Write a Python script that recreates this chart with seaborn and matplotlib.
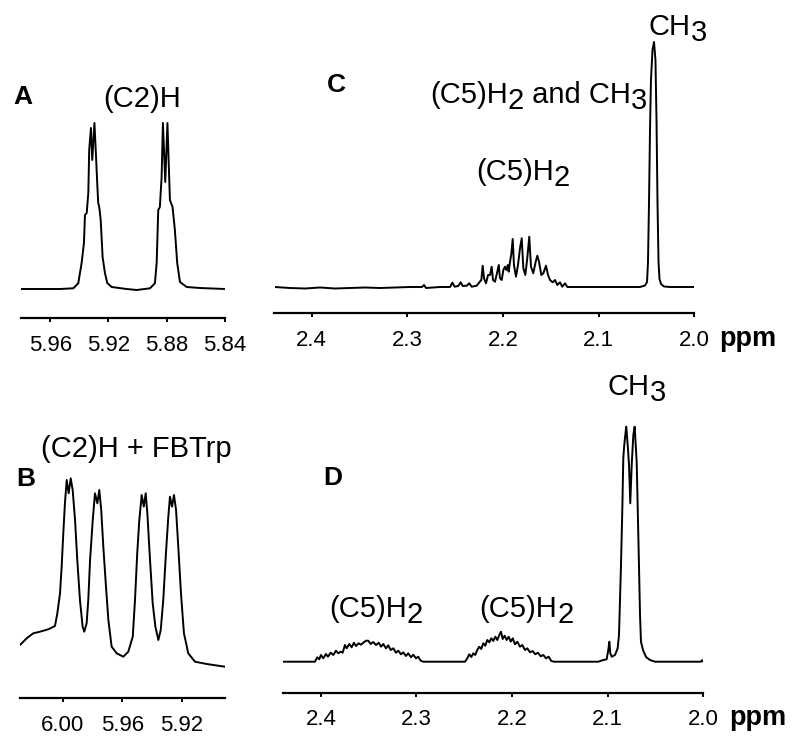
import matplotlib
matplotlib.use("Agg")
import matplotlib.pyplot as plt
import matplotlib.transforms as mtrans
import pandas as pd
import seaborn as sns

# ---------------- data ----------------
# Panel A: (C2)H
ppm_A = [5.9800, 5.9533, 5.9441, 5.9407, 5.9384, 5.9368, 5.9361, 5.9349, 5.9338, 5.9332,
         5.9320, 5.9311, 5.9296, 5.9284, 5.9277, 5.9270, 5.9263, 5.9253, 5.9240, 5.9224,
         5.9208, 5.9178, 5.9075, 5.9006, 5.8915, 5.8881, 5.8869, 5.8858, 5.8847, 5.8835,
         5.8826, 5.8810, 5.8795, 5.8787, 5.8778, 5.8760, 5.8744, 5.8728, 5.8709, 5.8663,
         5.8572, 5.8400]
int_A = [0, 0, 0.7, 5.7, 26, 46, 74, 76, 96, 139,
         161, 129, 166, 129, 106, 86, 82, 69, 32, 16,
         6, 2, 0, -1, 0.7, 5.7, 26, 79, 82, 112,
         166, 107, 166, 129, 89, 82, 59, 26, 7, 2,
         1, 0]
ticks_A = [5.96, 5.92, 5.88, 5.84]

# Panel B: (C2)H + FBTrp
ppm_B = [6.0289, 6.0244, 6.0200, 6.0155, 6.0099, 6.0054, 6.0038, 6.0020, 6.0009, 5.9998,
         5.9987, 5.9975, 5.9962, 5.9948, 5.9935, 5.9919, 5.9904, 5.9886, 5.9868, 5.9857,
         5.9841, 5.9830, 5.9818, 5.9800, 5.9785, 5.9769, 5.9756, 5.9743, 5.9729, 5.9711,
         5.9695, 5.9673, 5.9639, 5.9595, 5.9561, 5.9531, 5.9516, 5.9501, 5.9487, 5.9471,
         5.9457, 5.9444, 5.9433, 5.9415, 5.9397, 5.9379, 5.9359, 5.9343, 5.9326, 5.9308,
         5.9292, 5.9281, 5.9267, 5.9254, 5.9240, 5.9225, 5.9207, 5.9187, 5.9158, 5.9113,
         5.9034, 5.8911]
int_B = [53, 59.7, 64.7, 66.3, 68.7, 72, 84.7, 104.7, 131.3, 164.7,
         194.7, 218, 204.7, 219.7, 208, 178, 138, 98, 71.3, 66.3,
         74.7, 98, 138, 178, 204.7, 194.7, 208, 188, 151.3, 111.3,
         78, 51.3, 44.7, 41.3, 46.3, 61.3, 98, 144.7, 178, 203,
         191.3, 204.7, 184.7, 138, 94.7, 71.3, 58, 68, 98, 144.7,
         181.3, 201.3, 191.3, 203, 188, 151.3, 104.7, 64.7, 44.7, 36.3,
         34, 31.3]
ticks_B = [6.00, 5.96, 5.92]

# Panel C: (C5)H2 and CH3
ppm_C = [2.4388, 2.4226, 2.4069, 2.3912, 2.3755, 2.3599, 2.3442, 2.3285, 2.3128, 2.2972,
         2.2846, 2.2825, 2.2804, 2.2658, 2.2553, 2.2529, 2.2504, 2.2467, 2.2442, 2.2421,
         2.2379, 2.2352, 2.2327, 2.2274, 2.2247, 2.2226, 2.2212, 2.2198, 2.2177, 2.2156,
         2.2135, 2.2118, 2.2104, 2.2083, 2.2059, 2.2044, 2.2031, 2.2013, 2.1996, 2.1979,
         2.1965, 2.1950, 2.1940, 2.1926, 2.1913, 2.1898, 2.1885, 2.1864, 2.1843, 2.1822,
         2.1804, 2.1787, 2.1766, 2.1746, 2.1725, 2.1707, 2.1683, 2.1658, 2.1641, 2.1623,
         2.1599, 2.1578, 2.1550, 2.1529, 2.1508, 2.1480, 2.1456, 2.1432, 2.1404, 2.1380,
         2.1351, 2.1327, 2.1247, 2.0568, 2.0515, 2.0494, 2.0484, 2.0473, 2.0463, 2.0453,
         2.0437, 2.0421, 2.0406, 2.0395, 2.0385, 2.0374, 2.0364, 2.0348, 2.0317, 2.0254,
         2.0000]
int_C = [0, -1, -1.5, -0.5, -1.5, -1, -0.5, -1, -0.5, 0,
         0, 2, -1, 0, 0, 4.3, 0.3, 1, 4.7, 1,
         1.3, 3.7, 0.3, 1.3, 4.7, 7, 21.3, 8.7, 3.7, 12,
         12, 20.3, 7, 5.3, 15.3, 22, 8.7, 7, 17, 20.3,
         17, 22, 15.3, 25.3, 32.7, 48, 22, 10.3, 22, 38.7,
         48.7, 18.7, 12, 28.7, 50.3, 20.3, 13.7, 25.3, 31.3, 25.3,
         12, 13.7, 21.3, 12, 7, 4.7, 7, 2, 4.7, 0.3,
         3.7, 0, 0, 0, 1.5, 5, 25, 87, 157, 207,
         237, 245, 227, 167, 87, 25, 8, 3, 0.5, 0,
         0]
ticks_CD = [2.4, 2.3, 2.2, 2.1, 2.0]

# Panel D: (C5)H2, (C5)H2, CH3
ppm_D = [2.4392, 2.4219, 2.4062, 2.4038, 2.4017, 2.3999, 2.3975, 2.3947, 2.3926, 2.3897,
         2.3870, 2.3842, 2.3818, 2.3793, 2.3772, 2.3748, 2.3730, 2.3703, 2.3678, 2.3654,
         2.3633, 2.3605, 2.3580, 2.3556, 2.3528, 2.3504, 2.3479, 2.3452, 2.3423, 2.3395,
         2.3371, 2.3347, 2.3319, 2.3295, 2.3270, 2.3242, 2.3214, 2.3190, 2.3162, 2.3138,
         2.3110, 2.3086, 2.3057, 2.3033, 2.3005, 2.2981, 2.2956, 2.2929, 2.2492, 2.2468,
         2.2447, 2.2426, 2.2405, 2.2385, 2.2364, 2.2343, 2.2322, 2.2301, 2.2280, 2.2259,
         2.2238, 2.2217, 2.2196, 2.2175, 2.2154, 2.2133, 2.2116, 2.2098, 2.2077, 2.2056,
         2.2035, 2.2014, 2.1993, 2.1969, 2.1945, 2.1917, 2.1893, 2.1865, 2.1840, 2.1812,
         2.1784, 2.1757, 2.1729, 2.1700, 2.1673, 2.1645, 2.1617, 2.1589, 2.1561, 2.1098,
         2.1045, 2.1010, 2.0993, 2.0982, 2.0972, 2.0957, 2.0923, 2.0895, 2.0881, 2.0871,
         2.0860, 2.0846, 2.0836, 2.0826, 2.0815, 2.0805, 2.0790, 2.0776, 2.0763, 2.0748,
         2.0731, 2.0717, 2.0706, 2.0696, 2.0685, 2.0672, 2.0661, 2.0651, 2.0630, 2.0598,
         2.0557, 2.0504, 2.0023, 2.0013, 2.0000]
int_D = [0, 0, 0, 4.4, 2.4, 6.7, 3.4, 7.7, 5, 9,
         6.7, 11, 8.4, 10, 9, 16.7, 13.4, 17.7, 14.4, 19,
         15.7, 18.4, 17, 19, 21, 21, 17.7, 19.7, 16.7, 19,
         15, 17.7, 13.4, 16.4, 11.7, 13.4, 9, 11, 7.4, 9.4,
         5.7, 8.4, 4.4, 7, 3.4, 5, 1, 0, 0, 3.4,
         7.4, 4.7, 8.4, 6.7, 11.7, 15, 12.7, 18.4, 16, 21.7,
         19.4, 23.4, 20.7, 25, 21.7, 26.7, 30, 22.7, 26, 21.7,
         25, 20, 23.4, 17.4, 20, 15, 16.7, 11.7, 13.4, 9.4,
         10.7, 7.4, 9, 5.4, 6.7, 3.4, 5, 0.7, 0, 0,
         1.7, 2.4, 11.7, 20, 8.4, 5, 6.7, 13.4, 26.7, 60,
         96.7, 153.4, 203.4, 216.7, 226.7, 235, 216.7, 196.7, 158.4, 196.7,
         226.7, 235, 216.7, 200, 153.4, 96.7, 46.7, 20, 11.7, 4.7,
         1.7, 0, 0, 1.5, 0]

# ---------------- drawing ----------------
sns.set_theme(style="white")
plt.rcParams['font.family'] = ['Liberation Sans', 'DejaVu Sans']

W, H = 800, 745
fig = plt.figure(figsize=(W / 100, H / 100), dpi=100)
fig.patch.set_facecolor('white')


def px_axes(x0, x1, ytop, ybot):
    return fig.add_axes([x0 / W, 1 - ybot / H, (x1 - x0) / W, (ybot - ytop) / H])


def spectrum(ax, ppm, inten, xlim, ylim, ticks, fmt):
    df = pd.DataFrame({'ppm': ppm, 'I': inten})
    sns.lineplot(data=df, x='ppm', y='I', ax=ax, color='black', lw=1.4,
                 sort=False, estimator=None)
    ax.set_xlim(*xlim)
    ax.set_ylim(*ylim)
    ax.set_xticks(ticks)
    ax.set_xticklabels([fmt % t for t in ticks])
    ax.set_yticks([])
    ax.set_xlabel('')
    ax.set_ylabel('')
    sns.despine(ax=ax, left=True)
    ax.spines['bottom'].set_linewidth(1.6)
    ax.spines['bottom'].set_color('black')
    ax.tick_params(axis='x', bottom=True, direction='out', length=3, width=1.4,
                   pad=9, labelsize=16, colors='black')
    ax.patch.set_alpha(0)


axA = px_axes(21, 225, 40, 318)
spectrum(axA, ppm_A, int_A, (5.98, 5.84), (-29, 249), ticks_A, '%.2f')
axB = px_axes(20, 225, 440, 698)
spectrum(axB, ppm_B, int_B, (6.0289, 5.8911), (0, 258), ticks_B, '%.2f')
axC = px_axes(274.5, 694.3, 20, 313.3)
spectrum(axC, ppm_C, int_C, (2.4388, 2.0), (-26.3, 267), ticks_CD, '%.1f')
axD = px_axes(283.4, 703.2, 380, 692.7)
spectrum(axD, ppm_D, int_D, (2.4392, 2.0), (-31, 281.7), ticks_CD, '%.1f')

renderer = fig.canvas.get_renderer()
ident = mtrans.IdentityTransform()


def text_width(s, size, weight):
    t = fig.text(0, 0, s, fontsize=size, fontweight=weight, transform=ident)
    w = t.get_window_extent(renderer).width
    t.remove()
    return w


def rich(parts, x, y, ha='center', size=21, weight='normal', drop=6):
    """parts: list of (string, is_subscript); x, y in pixels from top-left, y = baseline."""
    full = ''.join(p for p, _ in parts)
    total = text_width(full, size, weight)
    x0 = x - total / 2 if ha == 'center' else x
    prefix = ''
    for s, sub in parts:
        off = text_width(prefix, size, weight) if prefix else 0
        yy = y + (drop if sub else 0)
        fig.text(x0 + off, H - yy, s, fontsize=size, fontweight=weight,
                 ha='left', va='baseline', transform=ident, color='black')
        prefix += s


# panel letters
rich([('A', False)], 13, 104, ha='left', size=19, weight='bold')
rich([('B', False)], 16, 486, ha='left', size=19, weight='bold')
rich([('C', False)], 327, 92, ha='left', size=19, weight='bold')
rich([('D', False)], 323, 485, ha='left', size=19, weight='bold')

# peak labels
rich([('(C2)H', False)], 141.7, 106.7)
rich([('(C2)H + FBTrp', False)], 136.7, 456.7)
rich([('(C5)H', False), ('2', True), (' and CH', False), ('3', True)], 538.7, 103.3)
rich([('(C5)H', False), ('2', True)], 523, 180)
rich([('CH', False), ('3', True)], 678, 35)
rich([('(C5)H', False), ('2', True)], 376, 616.7)
rich([('(C5)H', False), ('2', True)], 526.5, 616.7)
rich([('CH', False), ('3', True)], 637, 395)

# ppm unit labels
rich([('ppm', False)], 719.4, 346, ha='left', size=19.5, weight='bold')
rich([('ppm', False)], 729.7, 725, ha='left', size=19.5, weight='bold')

fig.savefig('out.png', dpi=100, facecolor='white')
